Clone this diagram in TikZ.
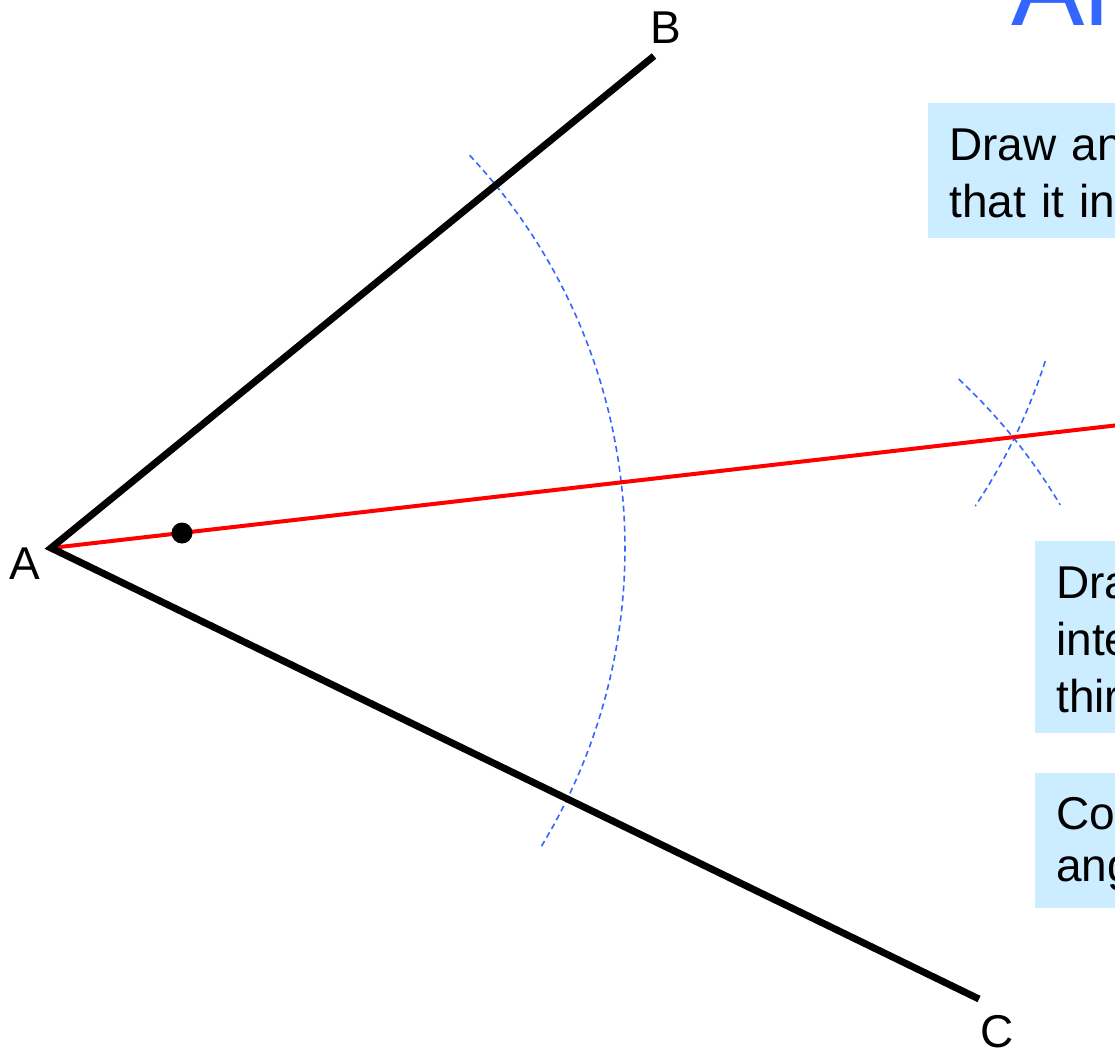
\documentclass[tikz,border=0pt]{standalone}
\usepackage{fontspec}
\setmainfont{Liberation Sans}
\usetikzlibrary{calc}
\definecolor{boxblue}{RGB}{204,236,255}
\definecolor{titleblue}{RGB}{51,102,255}
\definecolor{arcblue}{RGB}{51,102,255}
\tikzset{
  armline/.style={line width=7pt, black, line join=miter, line cap=butt},
  bisector/.style={line width=4pt, red},
  construct/.style={line width=1.6pt, arcblue, dash pattern=on 6pt off 4pt},
  ptlabel/.style={font=\fontsize{46}{55}\selectfont, inner sep=0pt, anchor=base},
  boxtext/.style={font=\fontsize{46}{57}\selectfont, inner sep=0pt, anchor=base west, text width=900pt, align=left},
  infobox/.style={fill=boxblue}
}
\begin{document}
\begin{tikzpicture}[x=1pt,y=-1pt]
\useasboundingbox (0,0) rectangle (1115,1055);
\clip (0,0) rectangle (1115,1055);

% points
\coordinate (A) at (51,548);
\coordinate (Bend) at (654,56);
\coordinate (Cend) at (979,999);
\coordinate (X) at (1015,437);
\coordinate (PB) at ($(A)!574pt!(Bend)$);
\coordinate (PC) at ($(A)!574pt!(Cend)$);

% title
\node[inner sep=0pt, anchor=base west, text=titleblue, font=\fontsize{110}{120}\selectfont] (title) at (1011,25) {Angle bisector};

% info boxes
\fill[infobox] (928,103) rectangle (1300,238);
\fill[infobox] (1035,541) rectangle (1300,733);
\fill[infobox] (1035,773) rectangle (1300,908);
\node[boxtext] (t1) at (949,160) {Draw an arc centred on A so\\that it intersects both lines.};
\node[boxtext] (t2) at (1056,598) {Draw arcs from where the arc\\intersects the lines to find a\\third point.};
\node[boxtext, font=\fontsize{46}{52}\selectfont] (t3) at (1056,829) {Connect A to this point to bisect the\\angle.};

% construction arcs
\draw[construct] (A) ++(-43.17:574) arc[start angle=-43.17, end angle=31.53, radius=574];
\draw[construct] (PB) ++(17.76:577) arc[start angle=17.76, end angle=33.8, radius=577];
\draw[construct] (PC) ++(-46.99:574) arc[start angle=-46.99, end angle=-30.82, radius=574];

% bisector
\coordinate (Rend) at ($(A)!1.15!(X)$);
\draw[bisector] (A) -- (Rend);

% arms
\draw[armline] (Bend) -- (A) -- (Cend);

% dot
\fill[black] (182,533) circle[radius=10.5];
\node[inner sep=0pt] (dot) at (182,533) {};

% labels
\node[ptlabel] (lA) at (24.5,579) {A};
\node[ptlabel] (lB) at (665.5,43) {B};
\node[ptlabel] (lC) at (997,1047) {C};
\end{tikzpicture}
\end{document}
